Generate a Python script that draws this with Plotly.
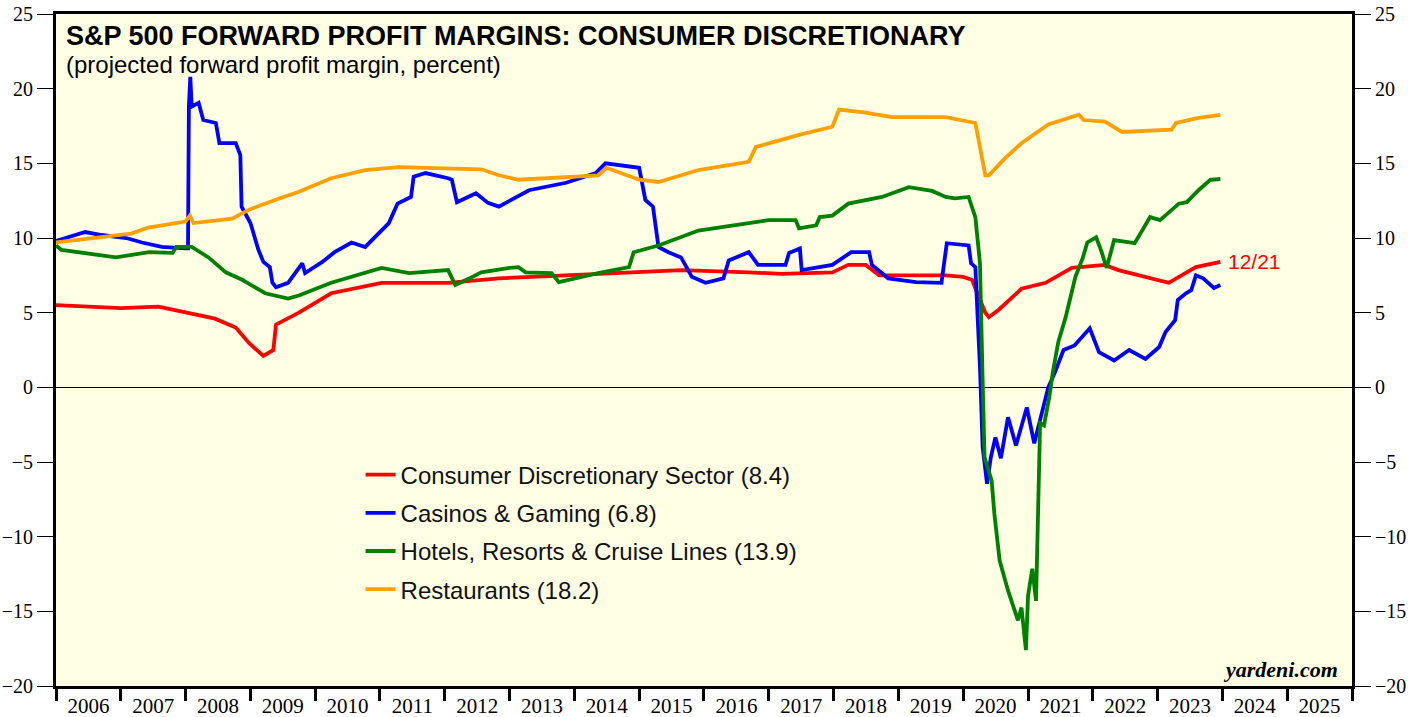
import plotly.graph_objects as go

# ---------------- data ----------------
cd_dates = ["2006-01-01","2006-06-01","2007-01-01","2007-08-01","2008-01-01","2008-06-15","2008-10-10",
            "2008-12-25","2009-03-15","2009-05-10","2009-05-25","2009-10-01","2010-04-01","2011-01-10",
            "2012-01-20","2012-11-01","2013-11-15","2015-08-25","2016-09-10","2017-03-15","2017-12-25",
            "2018-03-25","2018-07-01","2018-09-15","2019-09-25","2020-01-01","2020-02-20","2020-05-05",
            "2020-05-25","2020-07-20","2020-11-25","2021-04-10","2021-09-05","2022-03-10","2022-05-25",
            "2023-03-05","2023-08-05","2023-12-21"]
cd_vals = [5.5,5.4,5.3,5.4,5.0,4.6,4.0,
           2.95,2.1,2.5,4.2,5.0,6.3,7.0,
           7.0,7.3,7.5,7.85,7.7,7.6,7.7,
           8.2,8.2,7.5,7.5,7.4,7.2,5.0,
           4.7,5.2,6.6,7.0,8.0,8.2,7.85,
           7.0,8.05,8.4]

cas_dates = ["2006-01-01","2006-06-15","2006-09-15","2007-02-01","2007-05-01","2007-08-20","2008-01-01",
             "2008-01-15","2008-01-20","2008-01-28","2008-02-05","2008-03-15","2008-04-10","2008-06-20",
             "2008-07-10","2008-10-10","2008-11-05","2008-11-12","2009-01-01","2009-02-15","2009-03-15",
             "2009-04-20","2009-05-05","2009-05-25","2009-08-01","2009-09-10","2009-10-20","2009-11-05",
             "2010-02-10","2010-04-20","2010-07-25","2010-10-10","2011-02-20","2011-04-10","2011-06-25",
             "2011-07-10","2011-09-15","2012-01-20","2012-02-10","2012-03-10","2012-06-25","2012-09-01",
             "2012-11-01","2013-04-20","2013-11-15","2014-05-01","2014-06-25","2015-01-01","2015-02-05",
             "2015-03-20","2015-04-20","2015-06-15","2015-08-25","2015-10-25","2016-01-10","2016-04-20",
             "2016-05-20","2016-09-10","2016-11-01","2017-04-05","2017-04-25","2017-06-25","2017-07-05",
             "2017-12-25","2018-04-10","2018-07-20","2018-08-05","2018-11-05","2019-04-10","2019-09-01",
             "2019-10-01","2020-02-01","2020-02-15","2020-03-10","2020-04-05","2020-04-20","2020-05-15",
             "2020-06-05","2020-07-01","2020-08-01","2020-09-10","2020-10-25","2020-12-25","2021-02-05",
             "2021-03-15","2021-04-25","2021-06-01","2021-07-20","2021-09-20","2021-12-15","2022-02-05",
             "2022-05-01","2022-07-25","2022-10-25","2023-01-10","2023-02-15","2023-04-10","2023-04-25",
             "2023-06-10","2023-07-10","2023-08-05","2023-09-15","2023-11-15","2023-12-21"]
cas_vals = [9.8,10.4,10.2,10.0,9.7,9.4,9.3,
            9.3,18.8,20.8,18.8,19.05,17.9,17.7,
            16.35,16.35,15.55,12.1,11.0,9.2,8.4,
            8.05,7.0,6.7,7.0,7.7,8.3,7.65,
            8.4,9.05,9.7,9.4,11.0,12.3,12.75,
            14.1,14.35,14.0,13.9,12.4,13.0,12.35,
            12.1,13.2,13.7,14.35,15.0,14.7,12.55,
            12.1,9.4,9.05,8.7,7.4,7.0,7.3,
            8.5,9.05,8.2,8.2,9.0,9.3,7.85,
            8.2,9.05,9.05,8.2,7.3,7.05,7.0,
            9.65,9.5,8.3,8.05,1.35,-4.0,-6.45,
            -4.7,-3.35,-4.75,-2.0,-3.9,-1.35,-3.75,
            -2.0,0.0,1.0,2.5,2.8,3.95,2.35,
            1.8,2.5,1.9,2.7,3.7,4.5,5.85,
            6.3,6.5,7.5,7.3,6.65,6.85]

hot_dates = ["2006-01-01","2006-02-01","2006-12-05","2007-06-10","2007-10-20","2007-11-10","2008-02-05",
             "2008-05-10","2008-08-15","2008-11-15","2009-03-25","2009-08-01","2009-10-01","2010-04-01",
             "2011-01-10","2011-06-15","2012-01-20","2012-03-01","2012-05-20","2012-07-25","2013-01-01",
             "2013-02-20","2013-04-01","2013-08-25","2013-10-05","2014-05-15","2014-11-05","2014-12-01",
             "2015-04-20","2015-12-01","2016-09-10","2017-01-01","2017-06-01","2017-06-20","2017-09-25",
             "2017-10-15","2017-12-25","2018-03-25","2018-10-01","2019-03-01","2019-07-10","2019-09-25",
             "2019-11-15","2020-02-01","2020-03-10","2020-04-05","2020-04-20","2020-05-01","2020-06-10",
             "2020-06-25","2020-07-25","2020-09-10","2020-11-05","2020-11-25","2020-12-20","2021-01-01",
             "2021-01-25","2021-02-15","2021-03-10","2021-04-01","2021-05-01","2021-05-20","2021-06-20",
             "2021-08-01","2021-09-25","2021-11-05","2021-12-01","2022-01-20","2022-02-20","2022-03-20",
             "2022-05-01","2022-08-25","2022-11-20","2023-01-15","2023-05-01","2023-06-15","2023-08-20",
             "2023-10-25","2023-12-21"]
hot_vals = [9.5,9.2,8.7,9.05,9.0,9.4,9.4,
            8.7,7.7,7.2,6.3,5.95,6.15,7.0,
            8.0,7.65,7.85,6.85,7.3,7.7,8.0,
            8.05,7.7,7.65,7.05,7.65,8.05,9.05,
            9.5,10.5,11.0,11.2,11.2,10.65,10.85,
            11.4,11.5,12.3,12.75,13.4,13.15,12.75,
            12.65,12.75,11.4,8.3,0.5,-4.7,-6.25,
            -8.45,-11.6,-13.6,-15.6,-14.75,-17.6,-13.95,
            -12.15,-14.3,-2.4,-2.55,-0.65,0.95,3.0,
            4.7,7.4,8.65,9.7,10.05,9.05,8.0,
            9.85,9.65,11.4,11.2,12.3,12.4,13.2,
            13.9,13.95]

res_dates = ["2006-01-01","2006-08-01","2007-03-01","2007-06-05","2008-01-01","2008-01-25","2008-02-15",
             "2008-09-20","2008-12-25","2009-06-01","2009-10-01","2010-04-01","2010-10-10","2011-04-15",
             "2012-07-25","2012-11-01","2013-02-20","2014-05-15","2014-07-01","2015-01-01","2015-04-20",
             "2015-12-01","2016-09-10","2016-10-20","2017-06-20","2017-12-25","2018-02-01","2018-07-01",
             "2018-11-25","2019-09-25","2020-03-10","2020-05-05","2020-05-25","2020-08-25","2020-11-25",
             "2021-04-25","2021-10-15","2021-11-10","2022-03-10","2022-06-15","2023-03-20","2023-04-15",
             "2023-08-20","2023-12-21"]
res_vals = [9.7,10.0,10.3,10.7,11.1,11.5,11.0,
            11.3,11.9,12.6,13.1,14.0,14.55,14.75,
            14.6,14.2,13.9,14.2,14.7,13.9,13.75,
            14.55,15.1,16.1,16.9,17.45,18.6,18.4,
            18.1,18.1,17.7,14.2,14.2,15.35,16.35,
            17.6,18.25,17.9,17.8,17.1,17.25,17.7,
            18.05,18.25]

series_names = ["Consumer Discretionary Sector (8.4)", "Casinos & Gaming (6.8)",
                "Hotels, Resorts & Cruise Lines (13.9)", "Restaurants (18.2)"]
series_colors = ["#FF0000", "#0000FF", "#008000", "#FFA000"]
series_x = [cd_dates, cas_dates, hot_dates, res_dates]
series_y = [cd_vals, cas_vals, hot_vals, res_vals]

y_ticks = list(range(-20, 26, 5))

# ---------------- figure ----------------
fig = go.Figure()
for i, (nm, col, xs, ys) in enumerate(zip(series_names, series_colors, series_x, series_y)):
    fig.add_trace(go.Scatter(x=xs, y=ys, mode="lines", name=nm, legendgroup=f"g{i}",
                             line=dict(color=col, width=3.8), hoverinfo="skip"))

serif = "Liberation Serif, Times New Roman, serif"
sans = "Liberation Sans, Arial, sans-serif"

fig.update_layout(
    width=1417, height=717,
    margin=dict(l=56, r=65, t=14, b=31, autoexpand=False),
    paper_bgcolor="white",
    plot_bgcolor="#FFFFE3",
    showlegend=True,
    legend=dict(x=0.235, y=0.3475, xanchor="left", yanchor="top",
                bgcolor="rgba(0,0,0,0)", borderwidth=0,
                font=dict(family=sans, size=24, color="#111"),
                tracegroupgap=4, traceorder="grouped"),
    xaxis=dict(type="date", range=["2006-01-01", "2026-01-01"], automargin=False,
               dtick="M12", tick0="2006-01-01", tickformat="%Y", ticklabelmode="period",
               ticks="outside", ticklen=12, tickwidth=3, tickcolor="black",
               ticklabelstandoff=-13,
               showgrid=False, zeroline=False,
               showline=True, linewidth=3, linecolor="black", mirror=True,
               tickfont=dict(family=serif, size=21, color="black")),
    yaxis=dict(range=[-20, 25], tickvals=y_ticks, ticks="outside", ticklen=16, tickwidth=1,
               tickcolor="black", showgrid=False, automargin=False,
               zeroline=True, zerolinecolor="black", zerolinewidth=1,
               showline=True, linewidth=3, linecolor="black",
               tickfont=dict(family=serif, size=20, color="black")),
    yaxis2=dict(range=[-20, 25], tickvals=y_ticks, overlaying="y", side="right",
                ticks="outside", ticklen=16, tickwidth=1, tickcolor="black",
                showgrid=False, zeroline=False, automargin=False,
                showline=True, linewidth=3, linecolor="black",
                tickfont=dict(family=serif, size=20, color="black")),
)

# invisible trace so the right axis is drawn
fig.add_trace(go.Scatter(x=[cd_dates[0]], y=[cd_vals[0]], yaxis="y2", mode="lines",
                         showlegend=False, hoverinfo="skip", line=dict(width=0)))

fig.add_annotation(xref="paper", yref="paper", x=0.006, y=1.0, xanchor="left", yanchor="top",
                   yshift=-5, showarrow=False, align="left",
                   text="<b>S&P 500 FORWARD PROFIT MARGINS: CONSUMER DISCRETIONARY</b>",
                   font=dict(family=sans, size=27, color="black"))
fig.add_annotation(xref="paper", yref="paper", x=0.006, y=1.0, xanchor="left", yanchor="top",
                   yshift=-35, showarrow=False, align="left",
                   text="(projected forward profit margin, percent)",
                   font=dict(family=sans, size=24, color="black"))
fig.add_annotation(x=cd_dates[-1], y=cd_vals[-1], xanchor="left", yanchor="middle",
                   xshift=6, showarrow=False, text="12/21",
                   font=dict(family=sans, size=21, color="#FF0000"))
fig.add_annotation(xref="paper", yref="paper", x=0.991, y=0.0, xanchor="right", yanchor="bottom",
                   yshift=2, showarrow=False,
                   text="<b><i>yardeni.com</i></b>",
                   font=dict(family=serif, size=22, color="black"))

# remove the browser's default 8px body margin so the figure fills the window exactly
fig.write_html("out.html", config={"displayModeBar": False},
               post_script="document.body.style.margin='0';document.body.style.overflow='hidden';")
